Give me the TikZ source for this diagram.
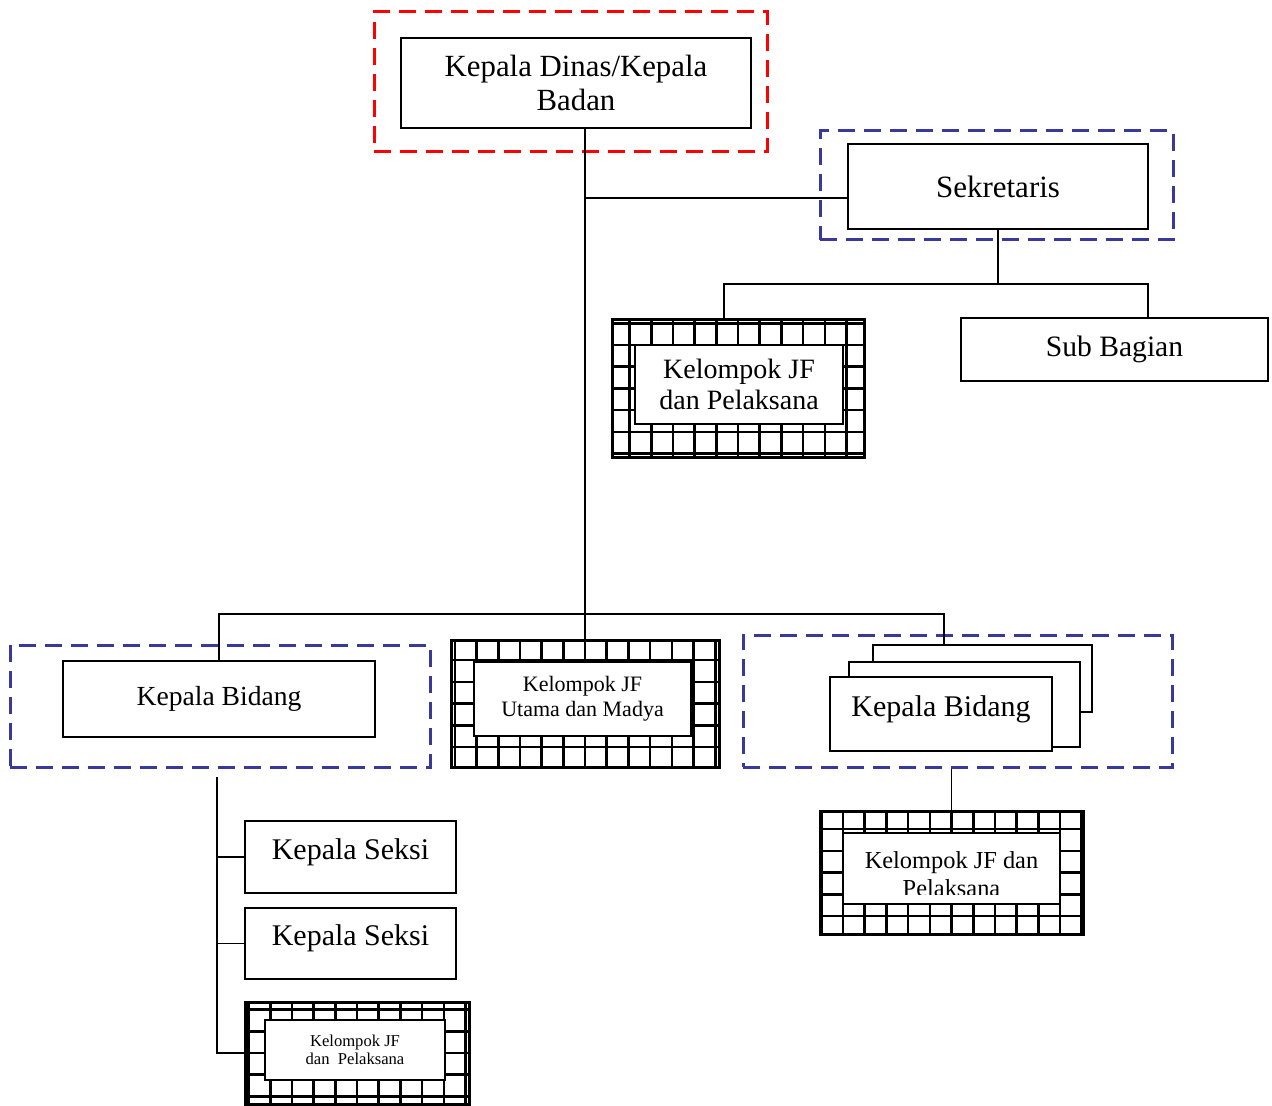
\documentclass[tikz,border=0pt]{standalone}
\usepackage{fontspec}
\setmainfont{Liberation Serif}
\usetikzlibrary{calc}
\definecolor{frameblue}{RGB}{57,57,156}
\newcommand{\fs}[1]{\fontsize{#1}{18}\selectfont}

\begin{document}
\begin{tikzpicture}[x=0.5pt,y=-0.5pt,
  box/.style={draw,line width=1.2pt,fill=white,align=center,inner sep=0pt},
  gridbox/.style={draw,line width=1.5pt,inner sep=0pt,
    path picture={\draw[line width=1.3pt] (-300pt,-300pt) grid[step=10.85pt] (300pt,300pt);}},
  innerbox/.style={draw,line width=0.7pt,fill=white,align=center,inner sep=0pt},
  frame/.style={draw,line width=1.5pt,dash pattern=on 8.5pt off 4.5pt,inner sep=0pt},
  link/.style={line width=0.6pt}]
  \useasboundingbox (0,0) rectangle (1272,1106);
  % top
  \node[frame,draw=red,minimum width=196.5pt,minimum height=70pt] (dinasfrm) at (570.5,82) {};
  \node[box,minimum width=175pt,minimum height=45pt,font=\fontsize{15.4}{17}\selectfont] (dinas) at (576,83) {Kepala Dinas/Kepala\\Badan};
  \node[frame,draw=frameblue,minimum width=176.5pt,minimum height=54.5pt] (sekrfrm) at (996.5,185.5) {};
  \node[box,minimum width=150pt,minimum height=42.5pt,font=\fs{15.5}] (sekr) at (998,186.5) {Sekretaris};
  \node[gridbox,minimum width=126pt,minimum height=68.5pt] (jf1) at (738,388.5) {};
  \node[innerbox,minimum width=104pt,minimum height=39.5pt,font=\fontsize{14}{15.5}\selectfont] (jf1in) at (739,384.5) {Kelompok JF\\dan Pelaksana};
  \node[box,minimum width=153.5pt,minimum height=31.5pt,font=\fs{14.8}] (subbag) at (1114.5,349.5) {Sub Bagian};
  % middle row
  \node[frame,draw=frameblue,minimum width=210pt,minimum height=61pt] (bid1frm) at (220,706) {};
  \node[box,minimum width=156pt,minimum height=38pt,font=\fs{13.8}] (bid1) at (219,699) {Kepala Bidang};
  \node[gridbox,minimum width=134pt,minimum height=63.5pt] (jfu) at (585,703.5) {};
  \node[innerbox,minimum width=108.5pt,minimum height=37pt,font=\fontsize{11}{12.5}\selectfont] (jfuin) at (582.5,699) {Kelompok JF\\Utama dan Madya};
  \node[frame,draw=frameblue,minimum width=214.5pt,minimum height=66pt] (bid2frm) at (957.5,701) {};
  \node[box,minimum width=109.5pt,minimum height=33.5pt] (bid2c) at (982.5,678.5) {};
  \node[box,minimum width=115.5pt,minimum height=42.5pt] (bid2b) at (964.5,704.5) {};
  \node[box,minimum width=111pt,minimum height=37pt,text depth=8pt,font=\fs{15}] (bid2) at (941,714) {Kepala Bidang};
  \node[gridbox,minimum width=131.5pt,minimum height=61.5pt] (jf3) at (951.5,872.5) {};
  \node[innerbox,minimum width=108.5pt,minimum height=35.5pt] (jf3in) at (951.5,868.5) {};
  \begin{scope}
    \clip (843,834) rectangle (1060,894);
    \node[align=center,font=\fontsize{12.2}{14}\selectfont] (jf3txt) at (951.5,874) {Kelompok JF dan\\Pelaksana};
  \end{scope}
  % bottom left
  \node[box,minimum width=105.5pt,minimum height=36pt,text depth=8pt,font=\fs{15}] (ks1) at (350.5,857) {Kepala Seksi};
  \node[box,minimum width=105.5pt,minimum height=35.5pt,text depth=8pt,font=\fs{15}] (ks2) at (350.5,943.5) {Kepala Seksi};
  \node[gridbox,minimum width=112pt,minimum height=51pt] (jf4) at (357,1053) {};
  \node[innerbox,minimum width=90pt,minimum height=30pt,font=\fontsize{8.3}{9}\selectfont] (jf4in) at (355,1050) {Kelompok JF\\dan~ Pelaksana};
  % connectors
  \coordinate (sekrin) at (848,198);
  \coordinate (b1l) at (724,284);
  \coordinate (b1r) at (1148,284);
  \coordinate (b2r) at (944,614);
  \coordinate (sp) at (217,777);
  \draw[link] (dinas.south -| jfu.north) -- (jfu.north);
  \draw[link] (jfu.north |- sekrin) -- (sekrin);
  \draw[link] (sekr.south) -- (sekr.south |- b1l);
  \draw[link] (b1l |- jf1.north) -- (b1l) -- (b1r) -- (b1r |- subbag.north);
  \draw[link] (bid1.north) -- (bid1.north |- b2r) -- (b2r) -- (b2r |- bid2c.north);
  \draw[link] (jf3.north) -- (jf3.north |- bid2frm.south);
  \draw[link] (sp) -- (sp |- jf4.west) -- (jf4.west);
  \draw[link] (sp |- ks1.west) -- (ks1.west);
  \draw[link] (sp |- ks2.west) -- (ks2.west);
\end{tikzpicture}
\end{document}
